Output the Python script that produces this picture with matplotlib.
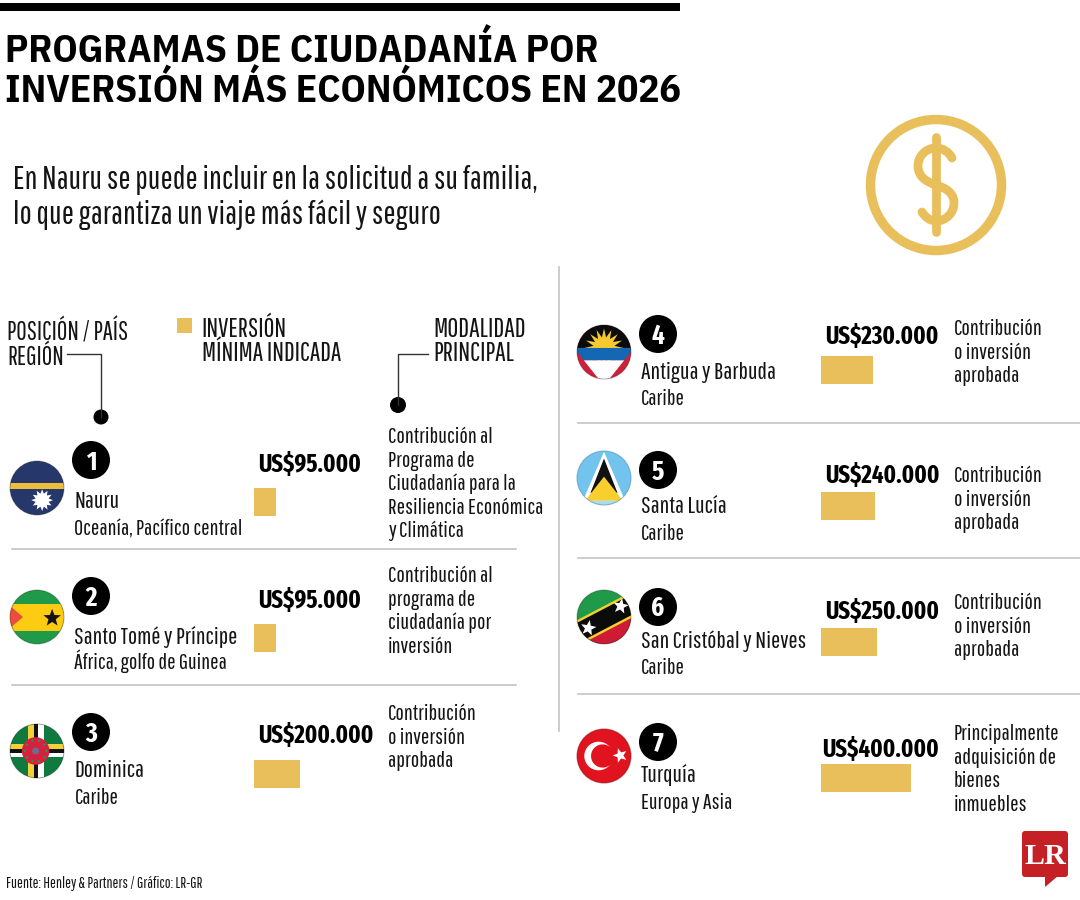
import numpy as np
import matplotlib
matplotlib.use("Agg")
import matplotlib.pyplot as plt
from matplotlib.patches import Circle, Polygon, Rectangle, PathPatch, FancyBboxPatch
from matplotlib.path import Path

W, H = 1080, 900
GOLD = "#E9BF5C"
INK = "#141414"
LINE = "#c4c4c4"
REGULAR = ["Pathway Gothic One", "Noto Sans", "DejaVu Sans"]
BOLD = ["Fira Sans Extra Condensed", "Open Sans", "DejaVu Sans"]
TITLE = ["IBM Plex Sans Condensed", "Open Sans", "DejaVu Sans"]

title_lines = ["PROGRAMAS DE CIUDADANÍA POR", "INVERSIÓN MÁS ECONÓMICOS EN 2026"]
subtitle_lines = ["En Nauru se puede incluir en la solicitud a su familia,",
                  "lo que garantiza un viaje más fácil y seguro"]
source = "Fuente: Henley & Partners / Gráfico: LR-GR"

countries = ["Nauru", "Santo Tomé y Príncipe", "Dominica", "Antigua y Barbuda",
             "Santa Lucía", "San Cristóbal y Nieves", "Turquía"]
regions = ["Oceanía, Pacífico central", "África, golfo de Guinea", "Caribe", "Caribe",
           "Caribe", "Caribe", "Europa y Asia"]
investment = [95000, 95000, 200000, 230000, 240000, 250000, 400000]
modality = [
    ["Contribución al", "Programa de", "Ciudadanía para la", "Resiliencia Económica", "y Climática"],
    ["Contribución al", "programa de", "ciudadanía por", "inversión"],
    ["Contribución", "o inversión", "aprobada"],
    ["Contribución", "o inversión", "aprobada"],
    ["Contribución", "o inversión", "aprobada"],
    ["Contribución", "o inversión", "aprobada"],
    ["Principalmente", "adquisición de", "bienes", "inmuebles"],
]

fig = plt.figure(figsize=(W / 100, H / 100), dpi=100, facecolor="white")
ax = fig.add_axes([0, 0, 1, 1])
ax.set_xlim(0, W)
ax.set_ylim(H, 0)
ax.axis("off")


def label(x, y, s, px, font=REGULAR, bold=False, color=INK, ha="left"):
    ax.text(x, y, s, fontsize=px * 0.72, family=font,
            weight="bold" if bold else "normal", color=color, ha=ha, va="baseline")


def star_points(cx, cy, r_out, r_in, n, rot=-90):
    ang = np.radians(rot + np.arange(2 * n) * 180 / n)
    rad = np.where(np.arange(2 * n) % 2 == 0, r_out, r_in)
    return np.column_stack([cx + rad * np.cos(ang), cy + rad * np.sin(ang)])


class Flag:
    """round flag, shapes are given in unit coords, v pointing down"""

    def __init__(self, cx, cy, r=27, base="white"):
        self.cx, self.cy, self.r = cx, cy, r
        self.clip = Circle((cx, cy), r, transform=ax.transData)
        self.circle(0, 0, 1.05, base)

    def add(self, patch):
        ax.add_patch(patch)
        patch.set_clip_path(self.clip)

    def poly(self, pts, color):
        pts = np.asarray(pts, float)
        xy = np.column_stack([self.cx + pts[:, 0] * self.r, self.cy + pts[:, 1] * self.r])
        self.add(Polygon(xy, closed=True, fc=color, ec="none"))

    def band(self, v0, v1, color):
        self.poly([(-1.1, v0), (1.1, v0), (1.1, v1), (-1.1, v1)], color)

    def vband(self, u0, u1, color):
        self.poly([(u0, -1.1), (u1, -1.1), (u1, 1.1), (u0, 1.1)], color)

    def circle(self, u, v, rad, color):
        self.add(Circle((self.cx + u * self.r, self.cy + v * self.r), rad * self.r, fc=color, ec="none"))

    def star(self, u, v, rad, color, n=5, inner=0.42, rot=-90):
        self.poly(star_points(u, v, rad, rad * inner, n, rot), color)

    def rim(self, color="#00000040"):
        ax.add_patch(Circle((self.cx, self.cy), self.r, fc="none", ec=color, lw=0.8))


def flag_nauru(cx, cy):
    f = Flag(cx, cy, base="#26386B")
    f.band(-0.19, 0.04, "#EDBE3B")
    f.star(0.19, 0.45, 0.40, "white", n=12, inner=0.62)
    f.rim()


def flag_stp(cx, cy):
    f = Flag(cx, cy, base="#1F9A48")
    f.band(-0.5, 0.5, "#FCCB12")
    f.poly([(-1.1, -0.5), (-0.52, 0), (-1.1, 0.5)], "#EC4B3F")
    f.star(0.56, 0.04, 0.34, "#141414")
    f.rim()


def flag_dominica(cx, cy):
    f = Flag(cx, cy, base="#0F7A40")
    f.vband(-0.32, -0.12, "#F3CF3B")
    f.vband(-0.12, 0.05, "#111111")
    f.vband(0.05, 0.26, "white")
    f.band(-0.26, -0.09, "#F3CF3B")
    f.band(-0.09, 0.07, "#111111")
    f.band(0.07, 0.24, "white")
    f.circle(-0.05, 0, 0.51, "#D5213F")
    for a in np.radians(np.arange(0, 360, 36)):
        f.star(-0.05 + 0.4 * np.cos(a), 0.4 * np.sin(a), 0.07, "#1E9A4C")
    f.circle(-0.05, 0, 0.13, "#6A6E8E")
    f.rim()


def flag_antigua(cx, cy):
    f = Flag(cx, cy, base="#CE1F3A")
    edge = lambda v: 0.99 - 0.79 * v
    f.poly([(-1.8, -1.1), (1.8, -1.1), (edge(-0.15), -0.15), (-edge(-0.15), -0.15)], "#0b0b0b")
    f.star(0, -0.15, 0.72, "#F6C92E", n=16, inner=0.55)
    f.circle(0, -0.15, 0.38, "#F6C92E")
    f.poly([(-edge(-0.15), -0.15), (edge(-0.15), -0.15), (edge(0.31), 0.31), (-edge(0.31), 0.31)], "#1467B3")
    f.poly([(-edge(0.31), 0.31), (edge(0.31), 0.31), (0, 1.25)], "white")
    f.rim()


def flag_lucia(cx, cy):
    f = Flag(cx, cy, base="#72C4EE")
    f.band(0.84, 1.1, "#A9DCF0")
    f.poly([(0, -0.97), (-0.78, 0.84), (0.78, 0.84)], "white")
    f.poly([(0, -0.72), (-0.5, 0.55), (0.5, 0.55)], "#111111")
    f.poly([(0, -0.05), (-0.7, 0.84), (0.7, 0.84)], "#F8CF2C")
    f.rim("#3d86a880")


def flag_kitts(cx, cy):
    f = Flag(cx, cy, base="#1F9A48")
    a = np.radians(27.6)
    d = np.array([np.cos(a), -np.sin(a)])
    n = np.array([np.sin(a), np.cos(a)])

    def strip(s0, s1, color):
        f.poly([-1.6 * d + s0 * n, 1.6 * d + s0 * n, 1.6 * d + s1 * n, -1.6 * d + s1 * n], color)

    strip(0.4, 1.8, "#CE1B35")
    strip(-0.36, 0.5, "#F3D02E")
    strip(-0.27, 0.41, "#0b0b0b")
    f.star(0.62, -0.4, 0.30, "white", rot=-80)
    f.star(-0.58, 0.41, 0.30, "white", rot=-80)
    f.rim()


def flag_turkey(cx, cy):
    f = Flag(cx, cy, base="#E1131F")
    f.circle(-0.2, 0, 0.53, "white")
    f.circle(-0.05, 0, 0.43, "#E1131F")
    f.star(0.6, -0.02, 0.28, "white", rot=-108)
    f.rim("#7a0a1080")


flags = [flag_nauru, flag_stp, flag_dominica, flag_antigua, flag_lucia, flag_kitts, flag_turkey]

# layout per row, pixels from the top left corner
flag_xy = [(37, 488), (37, 617), (37, 751), (604, 352), (604, 478), (604, 617), (604, 756)]
badge_xy = [(91, 460), (91, 596), (91, 732), (658, 334), (658, 470), (658, 607), (658, 742)]
name_x = [74.5, 74.5, 74.5, 641, 641, 641, 641]
name_y = [508, 644, 777, 379, 513, 648, 782]
region_y = [535, 669, 804, 405, 540, 674, 809]
value_xy = [(258, 472), (258, 608), (258, 743), (825, 344), (825, 483), (825, 619), (822, 757)]
mod_x = [388, 388, 388, 954, 954, 954, 954]
mod_y = [443, 582, 720, 335, 482, 609, 740]
mod_step = 23.6

# top rule and title
ax.add_patch(Rectangle((0, 3), 680, 8, fc="#000000", ec="none"))
label(5, 62, title_lines[0], 39.4, font=TITLE, bold=True, color="black")
label(5, 102, title_lines[1], 39.4, font=TITLE, bold=True, color="black")
label(13, 189, subtitle_lines[0], 32.4)
label(13, 224, subtitle_lines[1], 32.4)

# dollar icon
ax.add_patch(Circle((936, 185), 65.5, fc="none", ec=GOLD, lw=6.8))
ax.plot([936, 936], [137, 232], color=GOLD, lw=6.3, solid_capstyle="round")
verts = [(952, 158), (949, 152), (943, 148), (936, 148),
         (926, 148), (918, 156), (918, 166),
         (918, 177), (927, 182), (936, 185),
         (946, 188), (954, 193), (954, 203),
         (954, 213), (946, 221), (936, 221),
         (930, 221), (925, 217), (922, 212)]
codes = [Path.MOVETO] + [Path.CURVE4] * 18
ax.add_patch(PathPatch(Path(verts, codes), fc="none", ec=GOLD, lw=6.3, capstyle="round"))

# column headers
label(7, 340, "POSICIÓN / PAÍS", 25.5)
label(7, 365, "REGIÓN", 25.5)
ax.add_patch(Rectangle((177, 318), 15, 15, fc=GOLD, ec="none"))
label(201.5, 337, "INVERSIÓN", 26.3)
label(201.5, 361, "MÍNIMA INDICADA", 26.3)
label(433, 337, "MODALIDAD", 26.8)
label(433, 361, "PRINCIPAL", 26.8)
ax.plot([67, 101, 101], [354, 354, 417], color="#333333", lw=1)
ax.plot([428, 398, 398], [354, 354, 405], color="#333333", lw=1)
ax.add_patch(Circle((101, 417), 7.5, fc="black", ec="none"))
ax.add_patch(Circle((398, 405), 8, fc="black", ec="none"))

# separators
for y in (549, 685):
    ax.plot([12, 516], [y, y], color=LINE, lw=1.2)
for y in (423, 558, 694):
    ax.plot([578, 1080], [y, y], color=LINE, lw=1.2)
ax.plot([559, 559], [267, 731], color=LINE, lw=1.2)

for i in range(7):
    flags[i](*flag_xy[i])
    bx, by = badge_xy[i]
    ax.add_patch(Circle((bx, by), 19, fc="black", ec="none"))
    label(bx, by + 9.5, str(i + 1), 27, font=BOLD, bold=True, color="white", ha="center")
    label(name_x[i], name_y[i], countries[i], 24.3)
    label(name_x[i], region_y[i], regions[i], 22.3)
    usd = "US$" + f"{investment[i]:,}".replace(",", ".")
    label(value_xy[i][0], value_xy[i][1], usd, 24.7, font=BOLD, bold=True, color="black")
    for j, line in enumerate(modality[i]):
        label(mod_x[i], mod_y[i] + j * mod_step, line, 22.4)

# bars: value axis runs at 0.225 px per thousand dollars
PX_PER_USD = 0.225 / 1000
ROW = 136
for x0, top, idx in [(254.5, 434, [0, 1, 2]), (821, 302, [3, 4, 5, 6])]:
    vmax = 450000
    bar_ax = fig.add_axes([x0 / W, 1 - (top + ROW * len(idx)) / H,
                           vmax * PX_PER_USD / W, ROW * len(idx) / H])
    bar_ax.patch.set_alpha(0)
    bar_ax.barh(range(len(idx)), [investment[i] for i in idx], height=28 / ROW, color=GOLD)
    bar_ax.set_xlim(0, vmax)
    bar_ax.set_ylim(len(idx) - 0.5, -0.5)
    bar_ax.axis("off")

# footer and logo
label(6, 888, source, 15.5)
logo = FancyBboxPatch((1024, 833), 42, 42, boxstyle="round,pad=2,rounding_size=3", fc="#C62027", ec="none")
ax.add_patch(logo)
ax.add_patch(Polygon([(1045, 876), (1045, 887), (1058, 876)], fc="#C62027", ec="none"))
ax.text(1045, 864, "LR", fontsize=30 * 0.72, family=["Liberation Serif", "DejaVu Serif"], weight="bold",
        color="white", ha="center", va="baseline")

fig.savefig("out.png", dpi=100)
